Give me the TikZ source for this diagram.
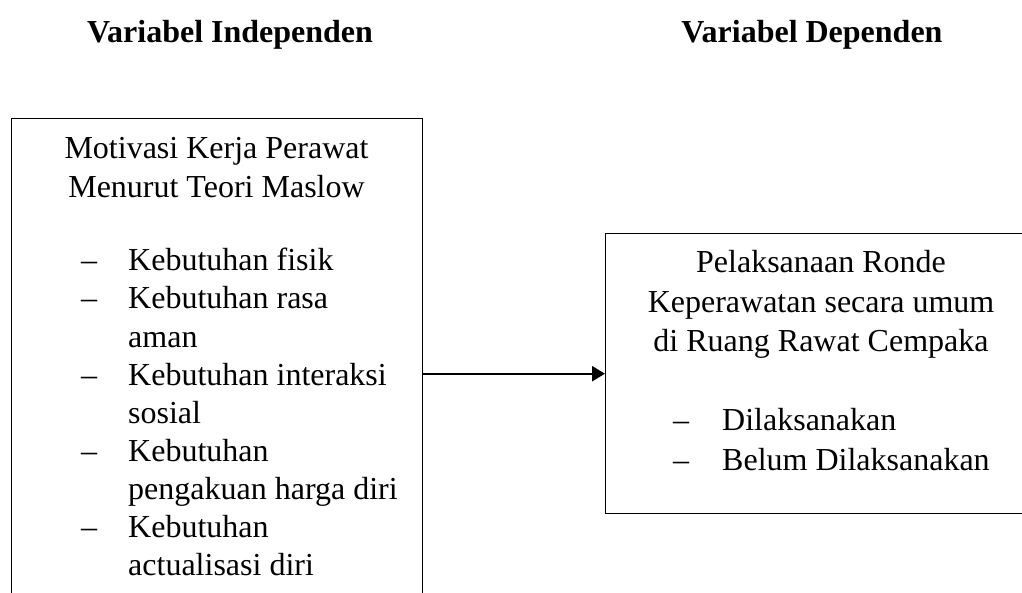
\documentclass[tikz,border=0pt]{standalone}
\usepackage{fontspec}
\setmainfont{Liberation Serif}
\usetikzlibrary{arrows.meta}
\begin{document}
\begin{tikzpicture}[x=1pt,y=-1pt,
  box/.style={draw, line width=1.4pt, inner sep=0pt, anchor=north west},
  txt/.style={inner sep=0pt, font=\fontsize{32}{38}\selectfont, align=left},
  ctr/.style={inner sep=0pt, font=\fontsize{32}{39.5}\selectfont, align=center, anchor=base},
  ttl/.style={inner sep=0pt, font=\fontsize{32}{38}\selectfont\bfseries, anchor=base},
  dashmark/.style={inner sep=0pt, font=\fontsize{32}{38}\selectfont, anchor=base west},
  item/.style={txt, anchor=base west},
  link/.style={line width=2.4pt, -{Triangle[length=13pt,width=15pt]}}]
\useasboundingbox (0,0) rectangle (1022,593);
\clip (0,0) rectangle (1022,593);
% titles
\node[ttl] (t1) at (230,43) {Variabel Independen};
\node[ttl] (t2) at (812,43) {Variabel Dependen};
% boxes
\node[box, minimum width=411pt, minimum height=520pt] (lbox) at (11,118) {};
\node[box, minimum width=432pt, minimum height=280pt] (rbox) at (605,233) {};
% left box text (base anchor = baseline of the last line)
\node[ctr] (lh) at (216.5,198) {Motivasi Kerja Perawat\\Menurut Teori Maslow};
\node[dashmark] (ld1) at (81,271) {–};
\node[item] (li1) at (128,271) {Kebutuhan fisik};
\node[dashmark] (ld2) at (81,309) {–};
\node[item] (li2) at (128,347) {Kebutuhan rasa\\aman};
\node[dashmark] (ld3) at (81,385) {–};
\node[item] (li3) at (128,423) {Kebutuhan interaksi\\sosial};
\node[dashmark] (ld4) at (81,461) {–};
\node[item] (li4) at (128,499) {Kebutuhan\\pengakuan harga diri};
\node[dashmark] (ld5) at (81,537) {–};
\node[item] (li5) at (128,575) {Kebutuhan\\actualisasi diri};
% right box text
\node[ctr] (rh) at (821,352) {Pelaksanaan Ronde\\Keperawatan secara umum\\di Ruang Rawat Cempaka};
\node[dashmark] (rd1) at (673,430) {–};
\node[item] (ri1) at (722,430) {Dilaksanakan};
\node[dashmark] (rd2) at (673,470) {–};
\node[item] (ri2) at (722,470) {Belum Dilaksanakan};
% connector
\draw[link] (rbox.west -| lbox.east) -- (rbox.west);
\end{tikzpicture}
\end{document}
